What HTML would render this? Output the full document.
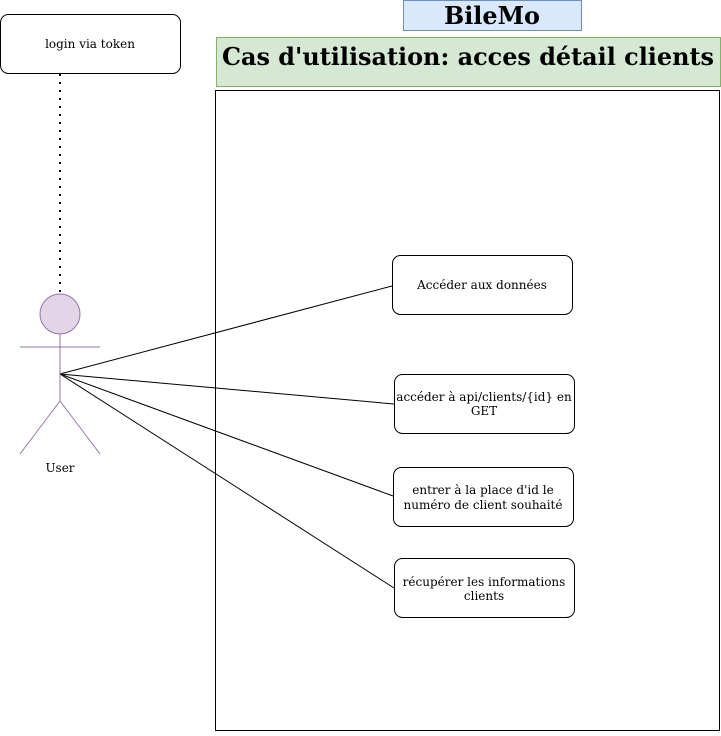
<!DOCTYPE html>
<html><head><style>body{margin:0;background:#fff}</style></head><body>
<svg width="721" height="731" xmlns="http://www.w3.org/2000/svg" font-family="'DejaVu Serif','Liberation Serif',serif">
<rect x="0" y="0" width="721" height="731" fill="#fff"/>
<rect x="0.5" y="14.5" width="180" height="59" rx="8" fill="#fff" stroke="#000"/>
<text x="90" y="48" font-size="12" text-anchor="middle">login via token</text>
<line x1="60" y1="74" x2="60" y2="294" stroke="#000" stroke-width="2" stroke-dasharray="2,6"/>
<rect x="403.5" y="0.5" width="178" height="30" fill="#dae8fc" stroke="#6c8ebf"/>
<text x="492" y="24" font-size="24" font-weight="bold" text-anchor="middle" textLength="96" lengthAdjust="spacingAndGlyphs">BileMo</text>
<rect x="216.5" y="37.5" width="504" height="49" fill="#d5e8d4" stroke="#82b366"/>
<text x="468" y="65" font-size="24" font-weight="bold" text-anchor="middle" textLength="492" lengthAdjust="spacingAndGlyphs">Cas d'utilisation: acces détail clients</text>
<rect x="215.5" y="90.5" width="504" height="640" fill="none" stroke="#000"/>
<g stroke="#000" stroke-width="1">
<line x1="60" y1="374" x2="392" y2="286"/>
<line x1="60" y1="374" x2="394" y2="404"/>
<line x1="60" y1="374" x2="393" y2="496"/>
<line x1="60" y1="374" x2="394" y2="588"/>
</g>
<g stroke="#9673a6" fill="none">
<circle cx="60" cy="314" r="20" fill="#e1d5e7"/>
<line x1="60" y1="334" x2="60" y2="401"/>
<line x1="20" y1="347" x2="100" y2="347"/>
<line x1="60" y1="401" x2="20" y2="454"/>
<line x1="60" y1="401" x2="100" y2="454"/>
</g>
<text x="60" y="472" font-size="12" text-anchor="middle">User</text>
<g fill="#fff" stroke="#000">
<rect x="392.5" y="255.5" width="180" height="59" rx="8"/>
<rect x="394.5" y="374.5" width="180" height="59" rx="8"/>
<rect x="393.5" y="467.5" width="180" height="59" rx="8"/>
<rect x="394.5" y="558.5" width="180" height="59" rx="8"/>
</g>
<g font-size="12" text-anchor="middle">
<text x="482" y="289">Accéder aux données</text>
<text x="484" y="401">accéder à api/clients/{id} en</text>
<text x="484" y="415">GET</text>
<text x="483" y="494">entrer à la place d'id le</text>
<text x="483" y="509">numéro de client souhaité</text>
<text x="484" y="586">récupérer les informations</text>
<text x="484" y="600">clients</text>
</g>
</svg>
</body></html>
